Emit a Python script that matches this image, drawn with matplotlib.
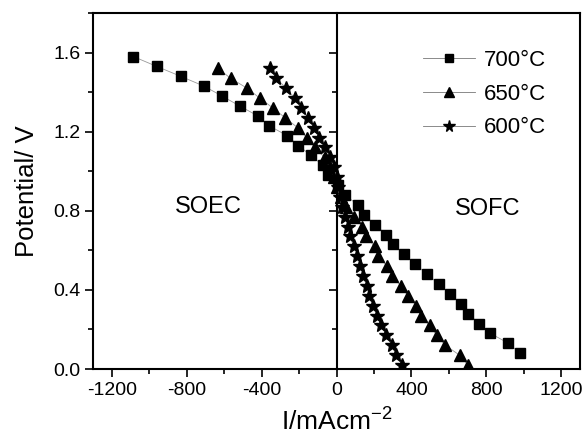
import matplotlib
matplotlib.use("Agg")
import matplotlib.pyplot as plt
from matplotlib.ticker import MultipleLocator

plt.rcParams['font.family'] = ['Liberation Sans', 'DejaVu Sans']
plt.rcParams['mathtext.fontset'] = 'custom'
plt.rcParams['mathtext.rm'] = 'Liberation Sans'

# Data (I in mA/cm^2, potential in V)
v700 = [1.58, 1.53, 1.48, 1.43, 1.38, 1.33, 1.28, 1.23, 1.18, 1.13, 1.08, 1.03, 0.98, 0.93, 0.88,
        0.83, 0.78, 0.73, 0.68, 0.63, 0.58, 0.53, 0.48, 0.43, 0.38, 0.33, 0.28, 0.23, 0.18, 0.13, 0.08]
i700 = [-1085, -960, -832, -707, -611, -517, -421, -360, -264, -203, -137, -73, -45, 10, 45,
        114, 148, 207, 266, 301, 360, 420, 483, 545, 606, 666, 702, 763, 822, 918, 978]

v650 = [1.52, 1.47, 1.42, 1.37, 1.32, 1.27, 1.22, 1.17, 1.12, 1.07, 1.02, 0.97, 0.92, 0.87, 0.82,
        0.77, 0.72, 0.67, 0.62, 0.57, 0.52, 0.47, 0.42, 0.37, 0.32, 0.27, 0.22, 0.17, 0.12, 0.07, 0.02]
i650 = [-634, -565, -478, -410, -340, -274, -207, -160, -116, -64, -35, -12, 5, 25, 50,
        95, 137, 159, 203, 223, 269, 296, 344, 381, 426, 449, 497, 536, 581, 657, 702]

v600 = [1.52, 1.47, 1.42, 1.37, 1.32, 1.27, 1.22, 1.17, 1.12, 1.07, 1.02, 0.97, 0.92, 0.87, 0.82,
        0.77, 0.72, 0.67, 0.62, 0.57, 0.52, 0.47, 0.42, 0.37, 0.32, 0.27, 0.22, 0.17, 0.12, 0.07, 0.02]
i600 = [-354, -322, -269, -224, -191, -153, -118, -96, -59, -34, -11, 0, 8, 18, 30,
        45, 60, 73, 91, 109, 123, 141, 162, 173, 194, 216, 239, 266, 294, 319, 351]

labels = ["700°C", "650°C", "600°C"]
xticks = [-1200, -800, -400, 0, 400, 800, 1200]
yticks = [0.0, 0.4, 0.8, 1.2, 1.6]

fig = plt.figure(figsize=(5.84, 4.36), dpi=100)
pos = [93/584, 1-369/436, (580-93)/584, (369-13)/436]
ax = fig.add_axes(pos)

line_kw = dict(color='#999999', lw=0.6, markerfacecolor='black', markeredgecolor='black')
ax.plot(i700, v700, marker='s', ms=7, label=labels[0], **line_kw)
ax.plot(i650, v650, marker='^', ms=8.5, label=labels[1], **line_kw)
ax.plot(i600, v600, marker='*', ms=10, label=labels[2], **line_kw)

ax.set_xlim(-1300, 1300)
ax.set_ylim(0, 1.8)
ax.xaxis.set_minor_locator(MultipleLocator(200))
ax.yaxis.set_minor_locator(MultipleLocator(0.2))
ax.set_xticks(xticks)
ax.set_xticklabels([str(t) for t in xticks])
ax.set_yticks(yticks)
ax.set_yticklabels(['%.1f' % t for t in yticks])
ax.tick_params(which='both', direction='out', width=1.2, labelsize=14, top=False, right=False)
ax.tick_params(which='major', length=6, pad=3)
ax.tick_params(which='minor', length=3.5)
for s in ax.spines.values():
    s.set_linewidth(1.5)

ax.set_xlabel("I/mAcm$^{-2}$", fontsize=19, labelpad=6)
ax.set_ylabel("Potential/ V", fontsize=18.5, labelpad=10)

ax.text(-684, 0.82, "SOEC", fontsize=17, ha='center', va='center')
ax.text(807, 0.81, "SOFC", fontsize=17, ha='center', va='center')

leg = ax.legend(loc='upper left', frameon=False, fontsize=16, handlelength=2.35,
                handletextpad=0.4, labelspacing=0.57, borderaxespad=0, borderpad=0,
                markerscale=0.85,
                bbox_to_anchor=((423-93)/487, 1-(50-13)/356))
for h in leg.legend_handles:
    h.set_color('#777777')
    h.set_markerfacecolor('black')
    h.set_markeredgecolor('black')

# zero line acting as an inner y-axis with ticks pointing left
ax2 = fig.add_axes(pos, sharex=ax, sharey=ax)
ax2.patch.set_visible(False)
for k in ['top', 'right', 'bottom']:
    ax2.spines[k].set_visible(False)
ax2.spines['left'].set_position(('data', 0))
ax2.spines['left'].set_linewidth(1.5)
ax2.tick_params(which='both', direction='out', width=1.2, labelleft=False, bottom=False,
                labelbottom=False)
ax2.tick_params(which='major', length=6)
ax2.tick_params(which='minor', length=3.5)

fig.savefig("out.png", dpi=100)
